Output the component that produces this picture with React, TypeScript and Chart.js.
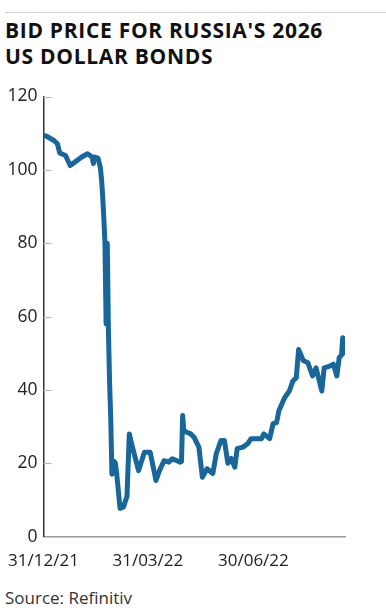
import React, { useEffect, useRef } from "react";
import { Chart, registerables } from "chart.js";

Chart.register(...registerables);

// Days since 31/12/21
const dayOffsets = [
  0, 3, 9, 12, 14, 19, 23, 27, 33, 38, 42, 43, 44, 47, 49, 50, 51, 52, 53, 54,
  55, 56, 57, 58, 59, 61, 62, 63, 66, 69, 72, 74, 76, 79, 82, 87, 92, 97, 100,
  104, 108, 111, 115, 118, 119, 120, 121, 124, 127, 130, 134, 137, 141, 146,
  149, 153, 156, 159, 162, 165, 167, 172, 176, 179, 188, 190, 195, 198, 201,
  203, 208, 212, 215, 218, 220, 224, 228, 232, 235, 240, 242, 247, 250, 253,
  255, 257, 258, 260,
];

const bidPrices = [
  109.4, 109.1, 108.0, 107.1, 104.6, 103.9, 101.2, 102.1, 103.5, 104.4, 103.5,
  101.7, 103.5, 103.2, 100.7, 97.6, 93, 87, 80, 58, 80, 56, 42, 32, 17, 20.5,
  20, 17.5, 7.7, 8.1, 11, 28, 25.3, 21.6, 18, 23, 23, 15.3, 18, 20.7, 20.3,
  21.2, 20.7, 20.3, 20.5, 33, 28.9, 28.4, 28, 27, 24.4, 16.2, 18.5, 17.2, 22.6,
  26.2, 26.2, 20, 21.3, 18.9, 24, 24.4, 25.3, 26.7, 26.7, 28, 26.7, 30.8, 31.1,
  34.3, 37.9, 39.7, 42.4, 43.3, 51, 48, 47.4, 43.8, 46, 39.7, 46, 46.5, 47,
  43.8, 48.8, 49.5, 54.2, 50.1,
];

const tickDays = [0, 90, 181];
const tickLabels = ["31/12/21", "31/03/22", "30/06/22"];
const yTicks = [0, 20, 40, 60, 80, 100, 120];

const FONT = "'Open Sans', sans-serif";

const innerTicks = {
  id: "innerTicks",
  beforeDatasetsDraw(chart: any) {
    const { ctx, scales } = chart;
    const y = scales.y;
    const left = chart.chartArea.left;
    ctx.save();
    ctx.strokeStyle = "#b5b5b5";
    ctx.lineWidth = 1.2;
    yTicks.forEach((v) => {
      if (v === 0) return;
      const py = Math.round(y.getPixelForValue(v)) + 0.5;
      ctx.beginPath();
      ctx.moveTo(left, py);
      ctx.lineTo(left + 8, py);
      ctx.stroke();
    });
    ctx.restore();
  },
};

export default function App() {
  const ref = useRef<HTMLCanvasElement | null>(null);

  useEffect(() => {
    if (!ref.current) return;
    const points = dayOffsets.map((d, i) => ({ x: d, y: bidPrices[i] }));
    const chart = new Chart(ref.current, {
      type: "line",
      data: {
        datasets: [
          {
            data: points,
            borderColor: "#18669a",
            borderWidth: 5,
            pointRadius: 0,
            tension: 0,
            borderJoinStyle: "round",
            borderCapStyle: "round",
            fill: false,
          },
        ],
      },
      options: {
        animation: false,
        responsive: false,
        maintainAspectRatio: false,
        layout: { padding: { top: 14.3, right: 41, bottom: 3.4, left: 0 } },
        plugins: { legend: { display: false }, tooltip: { enabled: false } },
        scales: {
          x: {
            type: "linear",
            min: 0,
            max: 260,
            afterBuildTicks: (s: any) => {
              s.ticks = tickDays.map((v) => ({ value: v }));
            },
            afterFit: (s: any) => {
              s.height = 40;
              s.paddingLeft = 20;
              s.paddingRight = 20;
            },
            ticks: {
              autoSkip: false,
              maxRotation: 0,
              padding: 14,
              color: "#222",
              font: { family: FONT, size: 17 },
              callback: (v: any) => {
                const i = tickDays.indexOf(Number(v));
                return i >= 0 ? tickLabels[i] : "";
              },
            },
            grid: { display: false, drawTicks: false },
            border: { display: true, color: "#9a9a9a", width: 1.5 },
          },
          y: {
            min: 0,
            max: 120,
            afterBuildTicks: (s: any) => {
              s.ticks = yTicks.map((v) => ({ value: v }));
            },
            afterFit: (s: any) => {
              s.width = 43.5;
            },
            ticks: {
              padding: 6,
              color: "#222",
              font: { family: FONT, size: 17.5 },
            },
            grid: { display: false, drawTicks: false },
            border: { display: true, color: "#333", width: 1.5 },
          },
        },
      },
      plugins: [innerTicks],
    } as any);
    return () => chart.destroy();
  }, []);

  return (
    <div
      style={{
        position: "absolute",
        left: 0,
        top: 0,
        width: 386,
        height: 616,
        background: "#fff",
        overflow: "hidden",
      }}
    >
      <div
        style={{
          position: "absolute",
          left: 5,
          right: 0,
          top: 11.5,
          height: 1.5,
          background: "#cfcfcf",
        }}
      />
      <div
        style={{
          position: "absolute",
          left: 5,
          top: 17.2,
          fontFamily: FONT,
          fontWeight: 700,
          fontSize: 21,
          letterSpacing: "0.7px",
          lineHeight: "26px",
          color: "#111",
          whiteSpace: "nowrap",
        }}
      >
        <div>BID PRICE FOR RUSSIA'S 2026</div>
        <div>US DOLLAR BONDS</div>
      </div>
      <canvas
        ref={ref}
        width={386}
        height={500}
        style={{ position: "absolute", left: 0, top: 80, width: 386, height: 500 }}
      />
      <div
        style={{
          position: "absolute",
          left: 5,
          top: 588.4,
          fontFamily: FONT,
          fontSize: 17,
          lineHeight: "20px",
          color: "#333",
          whiteSpace: "nowrap",
        }}
      >
        Source: Refinitiv
      </div>
    </div>
  );
}
